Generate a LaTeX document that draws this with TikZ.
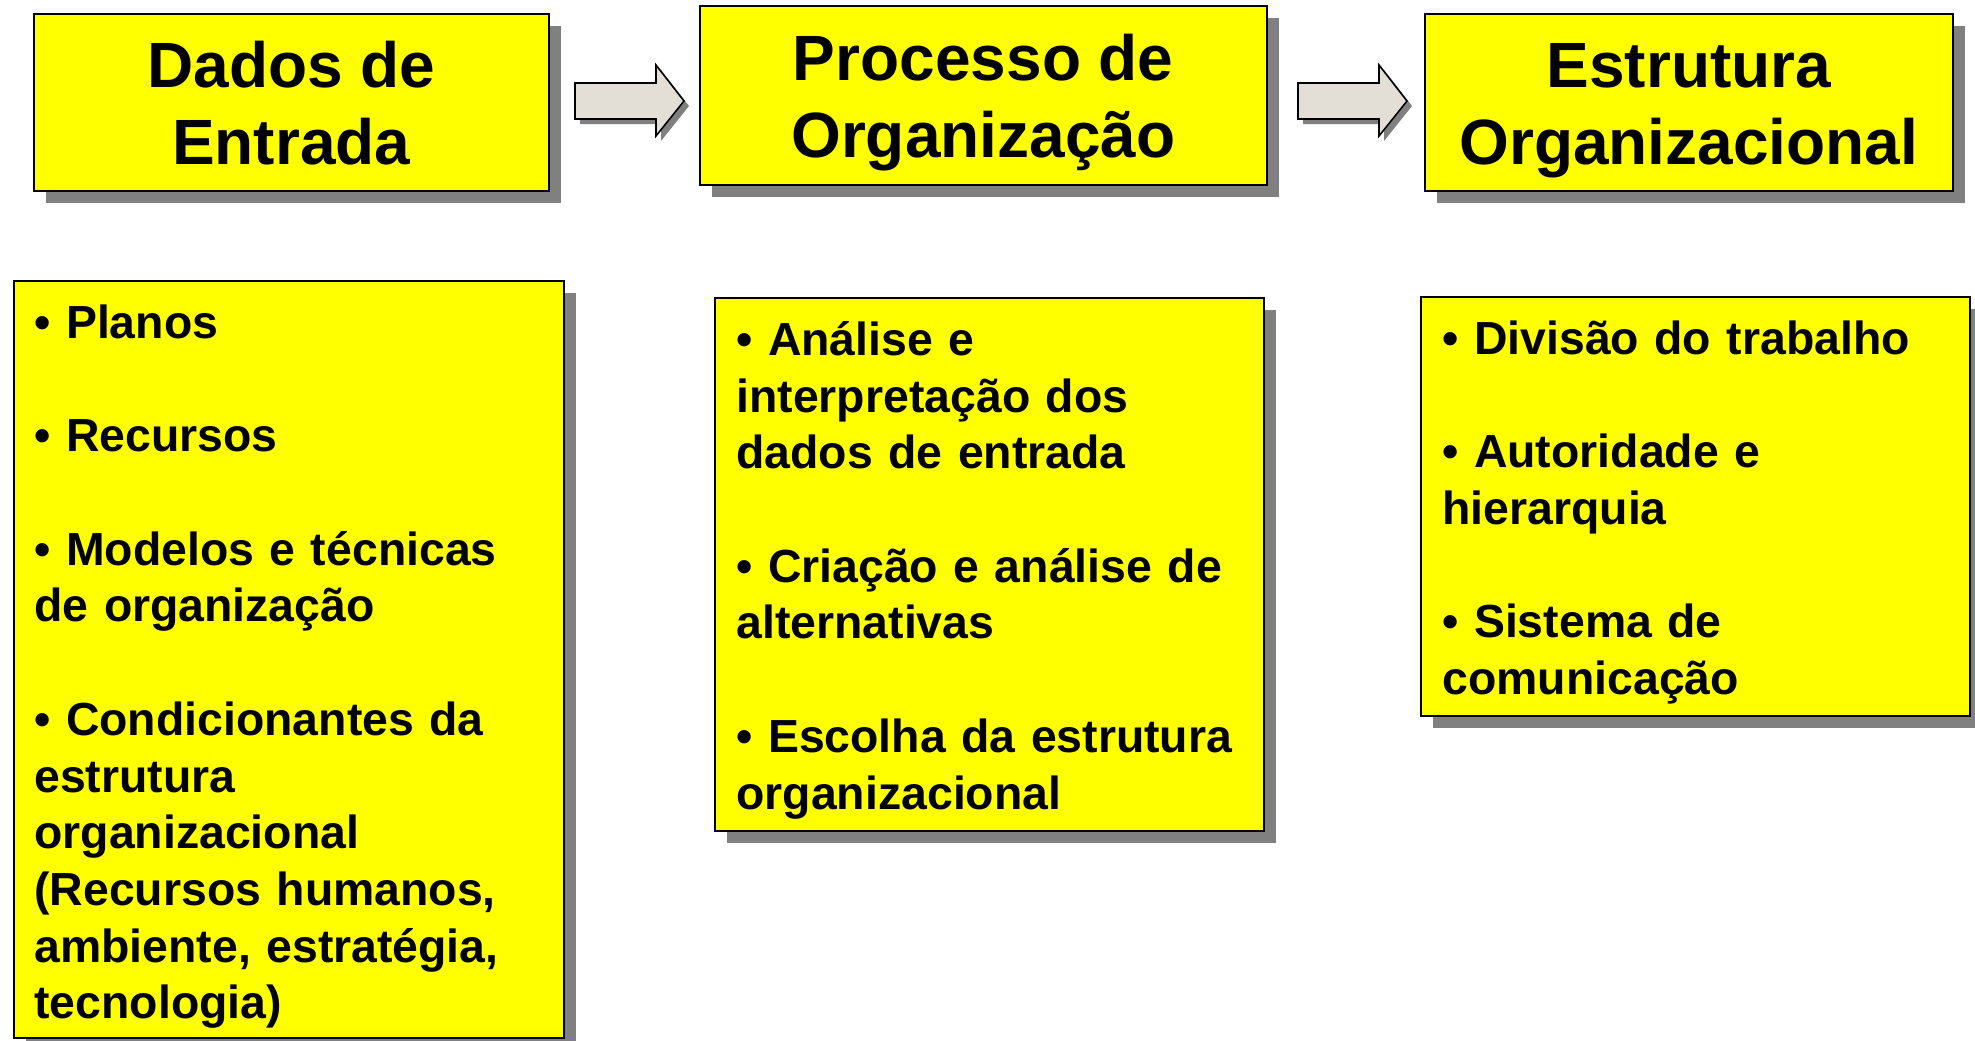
\documentclass[tikz,border=0pt]{standalone}
\usepackage{fontspec}
\setmainfont{Liberation Sans}
\usetikzlibrary{shadows}
\definecolor{boxyellow}{HTML}{FFFF00}
\definecolor{shadowgray}{HTML}{808080}
\definecolor{arrowfill}{HTML}{E3DED6}
\tikzset{
  box/.style={draw=black, line width=0.8pt, fill=boxyellow, inner sep=0pt,
    anchor=north west,
    drop shadow={shadow xshift=6pt, shadow yshift=-6pt, fill=shadowgray, opacity=1}},
  titletext/.style={align=center, font=\bfseries\fontsize{32pt}{38.5pt}\selectfont},
  listtext/.style={anchor=north west, inner sep=0pt, align=left, text width=265pt,
    font=\bfseries\fontsize{23.2pt}{28.35pt}\selectfont},
  blockarrow/.style={draw=black, line width=0.8pt, fill=arrowfill, line join=miter},
  arrowshadow/.style={fill=shadowgray}
}
\newcommand{\firststrut}{\rule{0pt}{24pt}}
\newcommand{\tstrut}{\rule[-6.8pt]{0pt}{37pt}}
\begin{document}
\begin{tikzpicture}[x=0.5pt,y=-0.5pt]
\path[use as bounding box] (0,0) rectangle (1975,1040);

% top boxes
\node[box, titletext, minimum width=257.5pt, minimum height=88.5pt] (b1) at (33,13) {\tstrut Dados de\\\tstrut Entrada};
\node[box, titletext, minimum width=283.5pt, minimum height=89.5pt] (b2) at (699,5) {\tstrut Processo de\\\tstrut Organização};
\node[box, titletext, minimum width=264pt, minimum height=88.5pt] (b3) at (1424,13) {\tstrut Estrutura\\\tstrut Organizacional};

% block arrows
\foreach \dx/\nm in {0/a1, 723/a2} {
  \begin{scope}[xshift=\dx*0.5pt]
    \fill[arrowshadow] (580,88) -- (661,88) -- (661,70) -- (689,106) -- (661,141) -- (661,124) -- (580,124) -- cycle;
    \draw[blockarrow] (575,83) -- (656,83) -- (656,65) -- (684,101) -- (656,136) -- (656,119) -- (575,119) -- cycle;
  \end{scope}
}

% bottom boxes
\node[box, minimum width=275pt, minimum height=378.5pt] (b4) at (13,280) {};
\node[box, minimum width=274.5pt, minimum height=266.5pt] (b5) at (714,297) {};
\node[box, minimum width=274.5pt, minimum height=209.5pt] (b6) at (1420,296) {};

\node[listtext] (t4) at ([xshift=10.5pt,yshift=-5pt]b4.north west) {\firststrut• Planos\\
\mbox{}\\
• Recursos\\
\mbox{}\\
• Modelos e técnicas\\
de organização\\
\mbox{}\\
• Condicionantes da\\
estrutura\\
organizacional\\
(Recursos humanos,\\
ambiente, estratégia,\\
tecnologia)};

\node[listtext] (t5) at ([xshift=11pt,yshift=-5pt]b5.north west) {\firststrut• Análise e\\
interpretação dos\\
dados de entrada\\
\mbox{}\\
• Criação e análise de\\
alternativas\\
\mbox{}\\
• Escolha da estrutura\\
organizacional};

\node[listtext] (t6) at ([xshift=11pt,yshift=-5pt]b6.north west) {\firststrut• Divisão do trabalho\\
\mbox{}\\
• Autoridade e\\
hierarquia\\
\mbox{}\\
• Sistema de\\
comunicação};
\end{tikzpicture}
\end{document}
